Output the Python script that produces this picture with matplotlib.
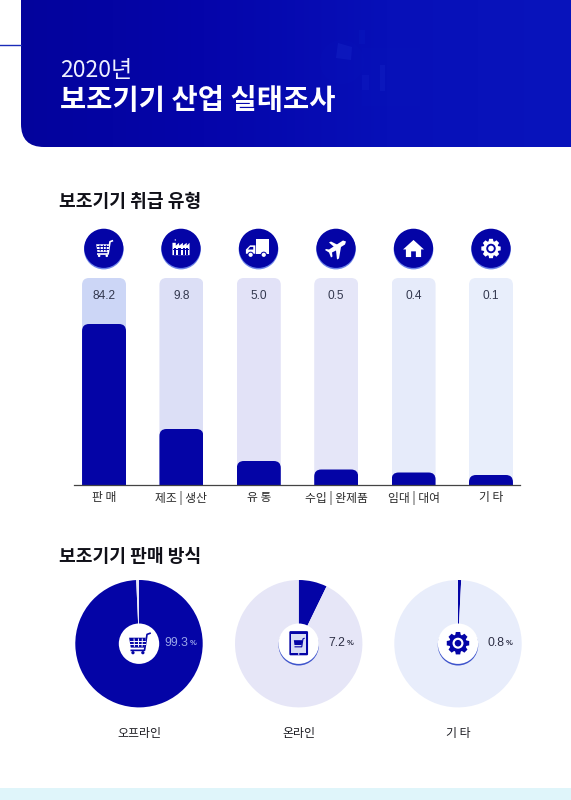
import numpy as np
import matplotlib
matplotlib.use('Agg')
import matplotlib.pyplot as plt
from matplotlib.patches import Circle, Rectangle, Polygon, FancyBboxPatch, PathPatch
from matplotlib.path import Path
from matplotlib.transforms import IdentityTransform
from matplotlib.colors import LinearSegmentedColormap

plt.rcParams['font.family'] = ['Noto Sans CJK KR', 'DejaVu Sans']

# ---- data ----
title_year = '2020년'
title_main = '보조기기 산업 실태조사'
section_1 = '보조기기 취급 유형'
section_2 = '보조기기 판매 방식'
categories = ['판 매', '제조 | 생산', '유 통', '수입 | 완제품', '임대 | 대여', '기 타']
values = [84.2, 9.8, 5.0, 0.5, 0.4, 0.1]
value_labels = ['84.2', '9.8', '5.0', '0.5', '0.4', '0.1']
full_scale = [100, 100, 100, 100, 100, 100]
# the source's bars are not linear: value -> drawn length
scale_values = [0, 0.1, 0.4, 0.5, 5.0, 9.8, 84.2, 100]
scale_lengths = [0, 10, 12.5, 15.5, 24, 56, 161, 207]
pie_names = ['오프라인', '온라인', '기 타']
pie_shares = [99.3, 7.2, 0.8]
pie_labels = ['99.3', '7.2', '0.8']

DARK = '#0404a6'
W, H = 571, 800
fig = plt.figure(figsize=(W / 100, H / 100), dpi=100, facecolor='white')


def axes_px(l, t, r, b, **kw):
    return fig.add_axes([l / W, 1 - b / H, (r - l) / W, (b - t) / H], **kw)


# ---- bar chart ----
ax = axes_px(74, 278, 520, 485, zorder=1)
ax.patch.set_alpha(0)
ax.set_yscale('function', functions=(lambda v: np.interp(v, scale_values, scale_lengths),
                                     lambda p: np.interp(p, scale_lengths, scale_values)))
ax.set_xlim(-0.388, 5.375)
ax.set_ylim(0, 100)
pos = np.arange(len(categories))
bar_w = 0.568
bg_cols = ['#ccd6f6', '#dcdff6', '#e2e2f7', '#e5e6f8', '#e6ebfa', '#e8eefb']
back = ax.bar(pos, full_scale, width=bar_w, color=bg_cols, linewidth=0)
front = ax.bar(pos, values, width=bar_w, color=DARK, linewidth=0)


def rounded_clip(rect, r, all_corners):
    bb = rect.get_window_extent(fig.canvas.get_renderer())
    x0, x1, y0, y1 = bb.x0, bb.x1, bb.y0, bb.y1
    rb = r if all_corners else 0
    verts = [(x0 + rb, y0), (x1 - rb, y0), (x1, y0), (x1, y0 + rb), (x1, y1 - r), (x1, y1), (x1 - r, y1),
             (x0 + r, y1), (x0, y1), (x0, y1 - r), (x0, y0 + rb), (x0, y0), (x0 + rb, y0), (x0 + rb, y0)]
    codes = [Path.MOVETO, Path.LINETO, Path.CURVE3, Path.CURVE3, Path.LINETO, Path.CURVE3, Path.CURVE3,
             Path.LINETO, Path.CURVE3, Path.CURVE3, Path.LINETO, Path.CURVE3, Path.CURVE3, Path.CLOSEPOLY]
    rect.set_clip_path(Path(verts, codes), IdentityTransform())


for b in back:
    rounded_clip(b, 7, True)
for b in front:
    rounded_clip(b, 7, False)
for s in ['top', 'left', 'right']:
    ax.spines[s].set_visible(False)
ax.spines['bottom'].set_color('#444444')
ax.spines['bottom'].set_linewidth(0.9)
ax.set_yticks([])
ax.minorticks_off()
ax.set_xticks(pos, categories, fontsize=8.5, color='#2a2a2a')
ax.tick_params(axis='x', length=0, pad=4.5)
ax.tick_params(axis='y', which='both', length=0, labelleft=False)
for p, t in zip(pos, value_labels):
    ax.text(p, 0.915, t, transform=ax.get_xaxis_transform(), ha='center', va='center',
            fontsize=8.6, color='#33384f', family=['Liberation Sans'])

# ---- pies ----
pie_x = [139, 298.7, 458]
pie_y = 643.7
pie_r = 63.7
pie_light = ['#e6e6f8', '#e6e6f7', '#e8edfb']
for cx, share, light in zip(pie_x, pie_shares, pie_light):
    pa = axes_px(cx - pie_r, pie_y - pie_r, cx + pie_r, pie_y + pie_r, zorder=1)
    pa.pie([share, 100 - share], colors=[DARK, light], startangle=90, counterclock=False, radius=1.0,
           wedgeprops={'linewidth': 0})
    pa.set_xlim(-1, 1)
    pa.set_ylim(-1, 1)

# ---- overlay in pixel coordinates ----
ov = fig.add_axes([0, 0, 1, 1], zorder=5)
ov.set_xlim(0, W)
ov.set_ylim(H, 0)
ov.axis('off')
ov.patch.set_alpha(0)

# header with gradient
cmap = LinearSegmentedColormap.from_list('h', ['#03039c', '#0505aa', '#0710b8', '#0914bc'])
grad = np.linspace(0, 1, 256).reshape(1, -1)
im = ov.imshow(grad, extent=(20, W, 147, 0), cmap=cmap, aspect='auto', zorder=1)
r = 23
hv = [(21, 0), (W, 0), (W, 147), (21 + r, 147), (21, 147), (21, 147 - r), (21, 0), (21, 0)]
hc = [Path.MOVETO, Path.LINETO, Path.LINETO, Path.LINETO, Path.CURVE3, Path.CURVE3, Path.LINETO, Path.CLOSEPOLY]
hp = PathPatch(Path(hv, hc), transform=ov.transData, fc='none', ec='none')
ov.add_patch(hp)
im.set_clip_path(hp)
ov.set_xlim(0, W)
ov.set_ylim(H, 0)
ov.plot([0, 21], [45, 45], color='#1a2bb8', lw=1.0, zorder=2)
# faint watermark
faint = '#0c1cc0'
ov.add_patch(Circle((342, 62), 22, fc=faint, ec='none', alpha=0.12, zorder=2))
ov.add_patch(Polygon([(338, 43), (352, 47), (351, 60), (336, 58)], fc='#1626c8', ec='none', alpha=0.4, zorder=2))
ov.add_patch(Rectangle((362, 48), 58, 58, fc=faint, ec='none', alpha=0.1, zorder=2))
ov.add_patch(Rectangle((380, 65), 5, 26, fc='#1626c8', ec='none', alpha=0.35, zorder=2))
ov.add_patch(Rectangle((362, 75), 7, 15, fc='#1626c8', ec='none', alpha=0.25, zorder=2))
ov.add_patch(Rectangle((359, 30), 6, 14, fc=faint, ec='none', alpha=0.3, zorder=2))

ov.text(60, 70.5, title_year, color='#eef0ff', fontsize=16.5, va='center', ha='left', zorder=3)
ov.text(60, 100.5, title_main, color='white', fontsize=20.5, fontweight='bold', va='center', ha='left', zorder=3)
ov.text(59, 201.5, section_1, color='#101018', fontsize=13.1, fontweight='bold', va='center', ha='left', zorder=3)
ov.text(59, 556.5, section_2, color='#101018', fontsize=13.1, fontweight='bold', va='center', ha='left', zorder=3)

# bottom band
ov.add_patch(Rectangle((0, 788), W, 12, fc='#dff5fa', ec='none', zorder=1))


def cart(cx, cy, s, col, bg):
    k = s / 10
    P = lambda x, y: (cx + x * k, cy + y * k)
    ov.add_patch(Polygon([P(-9, -5), P(6, -5), P(5, 4), P(-7.5, 4)], fc=col, ec='none', zorder=7))
    for x in (-4.5, -0.5, 3):
        ov.plot(*zip(P(x, -3.8), P(x * 0.93, 2.8)), color=bg, lw=0.7, zorder=8)
    for y in (-2.4, 0.9):
        ov.plot(*zip(P(-8, y), P(5.4, y)), color=bg, lw=0.7, zorder=8)
    ov.plot(*zip(P(10, -9), P(7.3, -8), P(5, 6.5), P(-7, 6.5)), color=col, lw=1.2, zorder=7)
    for x in (-5.5, 3.5):
        ov.add_patch(Circle(P(x, 8.6), 1.5 * k, fc=col, ec='none', zorder=7))


def factory(cx, cy, s, col, bg):
    k = s / 10
    P = lambda x, y: (cx + x * k, cy + y * k)
    ov.add_patch(Polygon([P(-9, 7), P(-9, -6), P(-5.5, -6), P(-5.5, -3), P(-2, -6), P(-2, -3), P(2, -6),
                          P(2, -3), P(6, -6), P(6, -3), P(9, -6), P(9, 7)], fc=col, ec='none', zorder=7))
    for x in (-6, -1.5, 3, 6.5):
        ov.add_patch(Rectangle(P(x - 1.2, -1), 2.4 * k, 8 * k, fc=bg, ec='none', zorder=8))
    ov.add_patch(Rectangle(P(-8, 0), 16 * k, 1.3 * k, fc=bg, ec='none', zorder=8))
    ov.add_patch(Circle(P(-6, -9), 0.7 * k, fc=col, ec='none', zorder=7))


def truck(cx, cy, s, col, bg):
    k = s / 10
    P = lambda x, y: (cx + x * k, cy + y * k)
    ov.add_patch(Rectangle(P(-2, -9), 12 * k, 14 * k, fc=col, ec='none', zorder=7))
    ov.add_patch(Polygon([P(-3, -3), P(-8, -3), P(-12, 1), P(-12, 5), P(-3, 5)], fc=col, ec='none', zorder=7))
    ov.add_patch(Polygon([P(-5, -1.5), P(-8, -1.5), P(-10, 1), P(-5, 1)], fc=bg, ec='none', zorder=8))
    for x in (-7.5, 5):
        ov.add_patch(Circle(P(x, 6), 3 * k, fc=bg, ec='none', zorder=8))
        ov.add_patch(Circle(P(x, 6), 2 * k, fc=col, ec='none', zorder=9))


def plane(cx, cy, s, col, bg):
    k = s / 10
    P = lambda x, y: (cx + x * k, cy + y * k)
    ov.add_patch(Polygon([P(10, -7), P(7, -8), P(-7, 1), P(-10, 0.5), P(-11, 1.5), P(-7, 4), P(-5, 9),
                          P(-3.5, 8), P(-4, 4), P(0, 2), P(1, 11), P(3, 10), P(5, -1.5), P(9, -4)],
                         fc=col, ec='none', zorder=7))
    ov.add_patch(Polygon([P(-7, -6), P(-5, -7), P(2, -3.5), P(-1.5, -1.2)], fc=col, ec='none', zorder=7))


def house(cx, cy, s, col, bg):
    k = s / 10
    P = lambda x, y: (cx + x * k, cy + y * k)
    ov.add_patch(Polygon([P(0, -9), P(11, 1), P(8, 1), P(8, 9), P(2.5, 9), P(2.5, 3), P(-2.5, 3), P(-2.5, 9),
                          P(-8, 9), P(-8, 1), P(-11, 1)], fc=col, ec='none', zorder=7))


def gear(cx, cy, s, col, bg):
    k = s / 10
    for a in np.arange(0, 360, 45):
        t = np.radians(a)
        ux, uy = np.cos(t), np.sin(t)
        vx, vy = -uy, ux
        c = [(7, 2.6), (10.2, 2.0), (10.2, -2.0), (7, -2.6)]
        ov.add_patch(Polygon([(cx + (d * ux + w * vx) * k, cy + (d * uy + w * vy) * k) for d, w in c],
                             fc=col, ec='none', zorder=7))
    ov.add_patch(Circle((cx, cy), 8 * k, fc=col, ec='none', zorder=7))
    ov.add_patch(Circle((cx, cy), 5 * k, fc=bg, ec='none', zorder=8))
    ov.add_patch(Circle((cx, cy), 3 * k, fc=col, ec='none', zorder=9))


def tablet(cx, cy, s, col, bg):
    k = s / 10
    ov.add_patch(FancyBboxPatch((cx - 8.5 * k, cy - 11 * k), 17 * k, 22 * k, boxstyle='round,pad=0,rounding_size=1.2',
                                fc=col, ec='none', zorder=7))
    ov.add_patch(Rectangle((cx - 7 * k, cy - 8.8 * k), 14 * k, 17.3 * k, fc='#d7dcf5', ec='none', zorder=8))
    ov.add_patch(Circle((cx, cy + 9.8 * k), 0.7 * k, fc=bg, ec='none', zorder=8))
    k2 = 0.55 * s
    P = lambda x, y: (cx + x * k2 / 10, cy + y * k2 / 10)
    ov.add_patch(Polygon([P(-8, -5), P(6, -5), P(5, 3), P(-7, 3)], fc=col, ec='none', zorder=9))
    ov.plot(*zip(P(9, -8), P(7, -7), P(5, 6), P(-6, 6)), color=col, lw=0.8, zorder=9)


# icon discs above the bars
cat_x = [103.8, 181, 258.5, 336, 413.5, 491]
cat_icons = [cart, factory, truck, plane, house, gear]
cat_sizes = [8.5, 9.5, 10.5, 10, 9.5, 9.5]
for cx, fn, sz in zip(cat_x, cat_icons, cat_sizes):
    ov.add_patch(Circle((cx, 249.6), 19.8, fc='#6f86e8', ec='none', zorder=5))
    ov.add_patch(Circle((cx, 248.3), 19.6, fc=DARK, ec='none', zorder=6))
    fn(cx, 248.5, sz, 'white', DARK)

# pie centres
pie_icons = [cart, tablet, gear]
for i, (cx, fn) in enumerate(zip(pie_x, pie_icons)):
    if i > 0:
        ov.add_patch(Circle((cx, pie_y + 1.6), 20.2, fc='#3f55cc', ec='none', zorder=5))
    ov.add_patch(Circle((cx, pie_y), 20.2, fc='white', ec='none', zorder=6))
    fn(cx, pie_y - 0.5, 11, DARK, 'white')

# pie value labels
lab_x = [164, 328, 487]
lab_col = ['#9aa6e8', '#2d2f45', '#2d2f45']
for x, t, c in zip(lab_x, pie_labels, lab_col):
    an = ov.text(x, pie_y - 0.5, t, color=c, fontsize=8.8, family=['Liberation Sans'], va='center', ha='left', zorder=6)
    ov.annotate('%', xy=(1, 0.5), xycoords=an, xytext=(1.5, 0), textcoords='offset points', color=c, fontsize=5.5,
                family=['Liberation Sans'], va='center', ha='left', fontweight='bold', zorder=6)
for x, t in zip(pie_x, pie_names):
    ov.text(x, 734, t, color='#1c1c22', fontsize=8.6, va='center', ha='center', zorder=6)

fig.savefig('out.png', dpi=100, facecolor='white')
